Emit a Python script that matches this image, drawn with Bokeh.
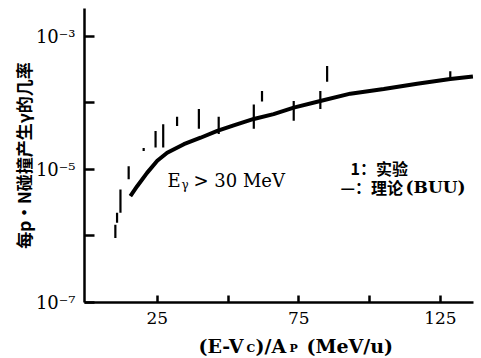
from bokeh.plotting import figure
from bokeh.layouts import column
from bokeh.models import Label, FixedTicker, CustomJSTickFormatter, Range1d
from bokeh.core.properties import value
from bokeh.embed import file_html
from bokeh.resources import INLINE

# ---- data ----
# experimental points: energy (MeV/u) and error-bar low/high of probability
exp_x = [10.2, 10.8, 12.0, 14.9, 20.2, 24.4, 27.1, 32.0, 39.7, 46.7, 59.1, 62.0, 73.2, 82.6, 85.0, 128.5]
exp_lo = [9.3e-7, 1.58e-6, 2.24e-6, 7.1e-6, 1.9e-5, 2.14e-5, 2.14e-5, 4.5e-5, 4.1e-5, 3.4e-5, 4.1e-5, 1.05e-4, 5.4e-5, 8.1e-5, 2.09e-4, 2.29e-4]
exp_hi = [1.48e-6, 2.24e-6, 5.0e-6, 1.12e-5, 2.1e-5, 3.8e-5, 4.8e-5, 6.2e-5, 8.1e-5, 6.2e-5, 9.5e-5, 1.51e-4, 1.07e-4, 1.51e-4, 3.6e-4, 3.0e-4]

# BUU theory curve
buu_x = [15.5, 17.9, 21.4, 25.0, 28.5, 34.4, 40.3, 46.2, 52.0, 59.1, 66.1, 73.2, 82.6, 93.2, 105.0, 116.8, 128.5, 136.5]
buu_y = [3.98e-6, 5.6e-6, 8.9e-6, 1.35e-5, 1.78e-5, 2.4e-5, 3.0e-5, 3.8e-5, 4.6e-5, 5.75e-5, 6.8e-5, 8.5e-5, 1.07e-4, 1.38e-4, 1.62e-4, 1.95e-4, 2.29e-4, 2.5e-4]

x_ticks = [25, 50, 75, 100, 125]
x_tick_labels = ["25", "", "75", "", "125"]
y_ticks = [1e-7, 1e-6, 1e-5, 1e-4, 1e-3]
y_tick_labels = ["10⁻⁷", "", "10⁻⁵", "", "10⁻³"]

ylabel = "每p·N碰撞产生γ的几率"

serif = "DejaVu Serif"
cjk = "Noto Sans CJK SC"

H1 = 332
p = figure(width=481, height=H1, y_axis_type="log",
           x_range=Range1d(-0.7, 136.7), y_range=Range1d(1e-7, 2.63e-3),
           output_backend="svg", toolbar_location=None,
           min_border_left=84, min_border_right=8, min_border_top=8, min_border_bottom=30)
p.frame_align = False
p.outline_line_color = None
p.grid.grid_line_color = None
p.background_fill_color = "white"
p.border_fill_color = "white"

# theory curve and experimental error bars
p.line(buu_x, buu_y, line_color="black", line_width=4)
p.segment(x0=exp_x, y0=exp_lo, x1=exp_x, y1=exp_hi, line_color="black", line_width=2.2)

# x axis
xa = p.xaxis[0]
xa.ticker = FixedTicker(ticks=x_ticks, minor_ticks=[])
xa.formatter = CustomJSTickFormatter(args=dict(t=x_ticks, l=x_tick_labels), code="""
const i = t.indexOf(tick); return i >= 0 ? l[i] : '';
""")
xa.axis_line_width = 2.5
xa.axis_line_color = "black"
xa.major_tick_in = 7
xa.major_tick_out = 0
xa.major_tick_line_width = 2.5
xa.minor_tick_line_color = None
xa.major_label_text_font = serif
xa.major_label_text_font_size = "17px"
xa.major_label_text_color = "black"
xa.major_label_standoff = 9

# y axis
ya = p.yaxis[0]
ya.ticker = FixedTicker(ticks=y_ticks, minor_ticks=[])
ya.formatter = CustomJSTickFormatter(args=dict(t=y_ticks, l=y_tick_labels), code="""
let best = 0, d = 1e9;
for (let i = 0; i < t.length; i++) { const dd = Math.abs(Math.log10(t[i]) - Math.log10(tick)); if (dd < d) { d = dd; best = i; } }
return d < 0.01 ? l[best] : '';
""")
ya.axis_line_width = 2.5
ya.axis_line_color = "black"
ya.major_tick_in = 10
ya.major_tick_out = 0
ya.major_tick_line_width = 2.5
ya.minor_tick_line_color = None
ya.major_label_text_font = serif
ya.major_label_text_font_size = "18px"
ya.major_label_text_color = "black"
ya.major_label_standoff = 9
ya.axis_label = ylabel
ya.axis_label_text_font = cjk
ya.axis_label_text_font_style = "bold"
ya.axis_label_text_font_size = "17px"
ya.axis_label_text_color = "black"
ya.axis_label_standoff = -3

# helper for labels in frame-relative screen coordinates (origin: frame bottom-left)
FL, FB = 84, 302
def lab(text, cx, cy, font=serif, size="18px", style="normal"):
    p.add_layout(Label(x=cx - FL, y=FB - cy, x_units="screen", y_units="screen", text=text,
                       text_font=font, text_font_size=size, text_font_style=style,
                       text_color="black", text_baseline="alphabetic", text_align="left"))

# E_gamma > 30 MeV
lab("E", 167, 180, size="18px")
lab("γ", 181, 184, size="12px")
lab("> 30 MeV", 193, 180, size="18px")

# legend text
lab("1：实验", 350, 167, font=cjk, size="16px", style="bold")
lab("—：理论", 340, 186, font=cjk, size="16px", style="bold")
lab("(BUU)", 405, 186, size="17px", style="bold")

# x axis title strip: (E-Vc)/Ap (MeV/u), coordinates in strip pixels (y up)
H2 = 358 - H1
q = figure(width=481, height=H2, x_range=Range1d(0, 481), y_range=Range1d(0, H2),
           output_backend="svg", toolbar_location=None,
           x_axis_location=None, y_axis_location=None,
           min_border=0, min_border_left=0, min_border_right=0, min_border_top=0, min_border_bottom=0)
q.frame_align = False
q.outline_line_color = None
q.grid.grid_line_color = None
q.background_fill_color = "white"
q.border_fill_color = "white"

def qtext(t, cx, cy, size, style="bold"):
    q.text(x=[cx], y=[H2 - (cy - H1)], text=[t], text_font=value(serif), text_font_size=size,
           text_font_style=style, text_color="black", text_baseline="alphabetic", text_align="left")

qtext("(E-V", 198, 345, "19px")
qtext("C", 246, 348, "11px")
qtext(")/A", 255, 345, "19px")
qtext("P", 289, 348, "11px")
qtext("(MeV/u)", 306, 345, "19px")

layout = column(p, q, spacing=0)
open("out.html", "w").write(file_html(layout, INLINE))
